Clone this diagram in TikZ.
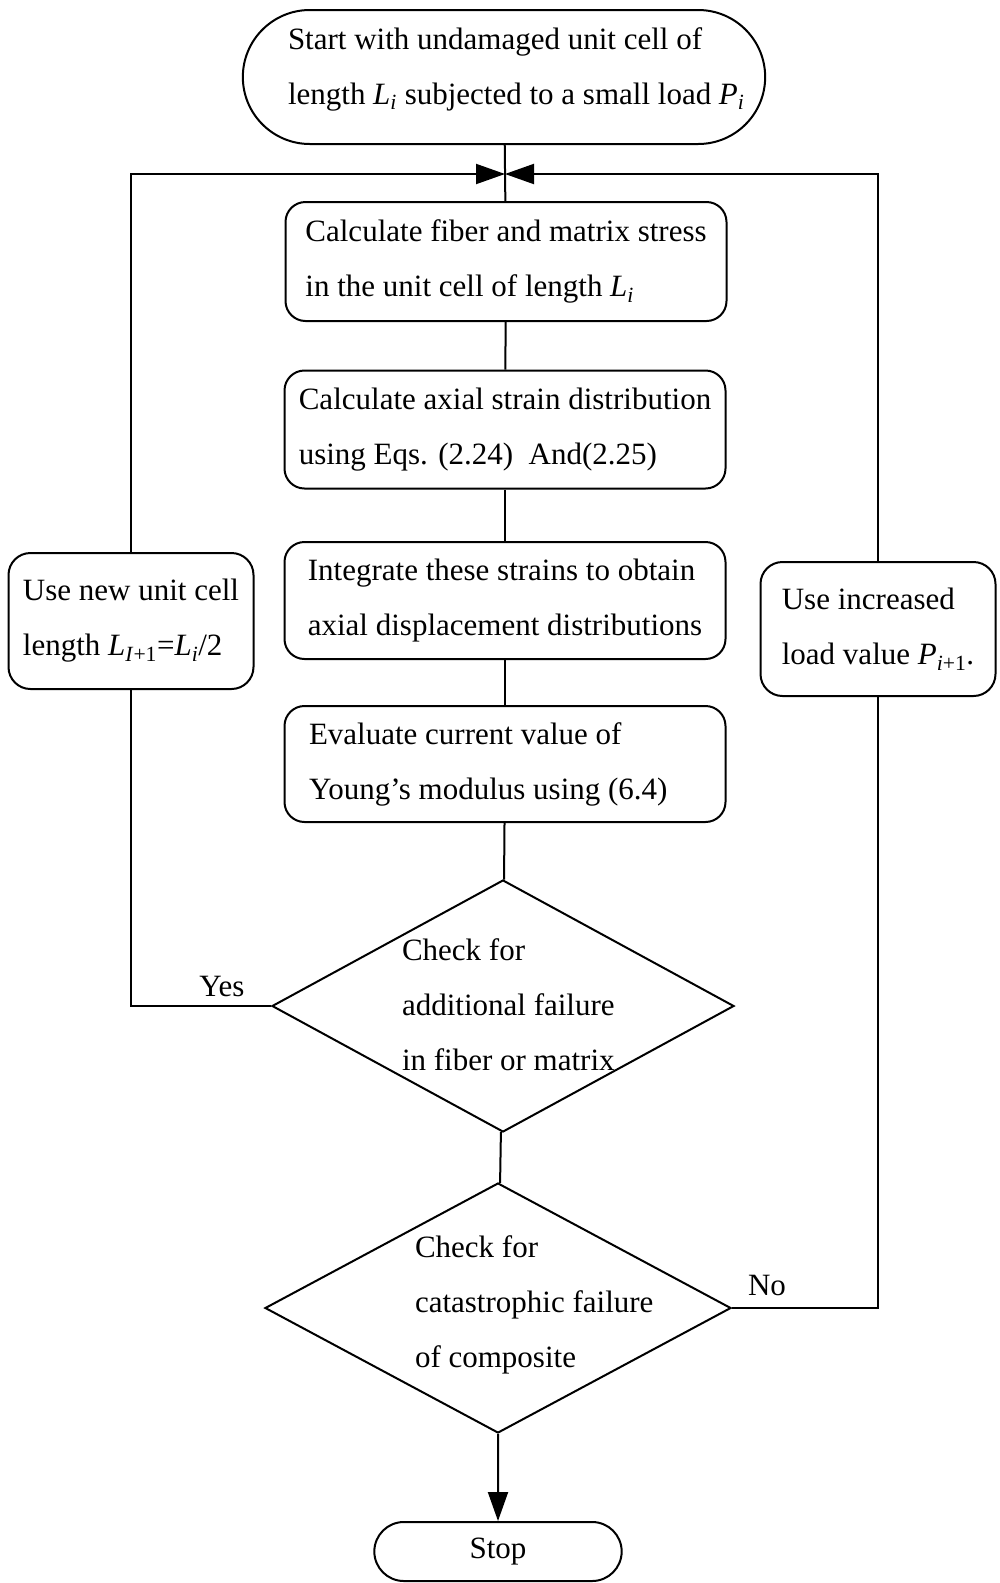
\documentclass[tikz,border=0pt]{standalone}
\usepackage{fontspec}
\setmainfont{Liberation Serif}
\usetikzlibrary{shapes.geometric,shapes.misc,arrows.meta}
\begin{document}
\begin{tikzpicture}[x=1pt,y=-1pt, line width=2pt,
  every node/.style={font=\fontsize{31}{55}\selectfont},
  box/.style={draw, rounded corners=20pt, minimum width=441pt, minimum height=118pt, align=left},
  sidebox/.style={draw, rounded corners=22pt, align=left},
  terminal/.style={draw, rounded rectangle},
  decision/.style={draw, diamond, inner sep=0pt},
  tri/.style={-{Triangle[length=29pt,width=20pt]}},
  lbl/.style={inner sep=0pt}]
\useasboundingbox (0,0) rectangle (1000,1583);

% shapes
\node[terminal, minimum width=529pt, minimum height=134pt] (start) at (504,77) {};
\node[lbl, anchor=west, align=left] (starttext) at (287,69)
  {Start with undamaged unit cell of\\length \textit{L}\textsubscript{\textit{i}} subjected to a small load \textit{P}\textsubscript{\textit{i}}};
\coordinate (m) at (505,174);

\node[box, minimum height=119pt] (b1) at (506,261.5)
  {Calculate fiber and matrix stress\\in the unit cell of length \textit{L}\textsubscript{\textit{i}}};
\node[box] (b2) at (505,429.5)
  {Calculate axial strain distribution\\using Eqs. (2.24)~~And(2.25)};
\node[box, minimum height=117pt] (b3) at (505,600.5)
  {Integrate these strains to obtain\\axial displacement distributions};
\node[box, minimum height=116pt, text width=392pt, align=flush left] (b4) at (505,764)
  {Evaluate current value of\\Young's modulus using (6.4)};

\node[decision, minimum width=462pt, minimum height=252pt] (d1) at (503,1006) {};
\node[lbl, anchor=west, align=left] (d1text) at (401,1005)
  {Check for\\additional failure\\in fiber or matrix};
\node[decision, minimum width=466pt, minimum height=250pt] (d2) at (498,1308) {};
\node[lbl, anchor=west, align=left] (d2text) at (414,1305)
  {Check for\\catastrophic failure\\of composite};

\node[terminal, minimum width=254pt, minimum height=59pt] (stop) at (498,1551.5) {Stop};

\node[sidebox, minimum width=245pt, minimum height=136pt] (lbox) at (131,621)
  {Use new unit cell\\length \textit{L}\textsubscript{\textit{I}+1}=\textit{L}\textsubscript{\textit{i}}/2};
\node[sidebox, minimum width=235pt, minimum height=134pt] (rbox) at (878,629)
  {Use increased\\load value \textit{P}\textsubscript{\textit{i}+1}.};

\node[lbl, anchor=base] (yes) at (222,996) {Yes};
\node[lbl, anchor=base] (no) at (767,1295) {No};

% connectors
\draw (start) -- (b1);
\draw (b1) -- (b2);
\draw (b2) -- (b3);
\draw (b3) -- (b4);
\draw (b4) -- (d1);
\draw (d1) -- (d2);
\draw[tri] (d2) -- (stop);
\draw[tri] (lbox.north) |- (m);
\draw[tri] (rbox.north) |- (m);
\draw (d1.west) -| (lbox.south);
\draw (d2.east) -| (rbox.south);
\end{tikzpicture}
\end{document}
